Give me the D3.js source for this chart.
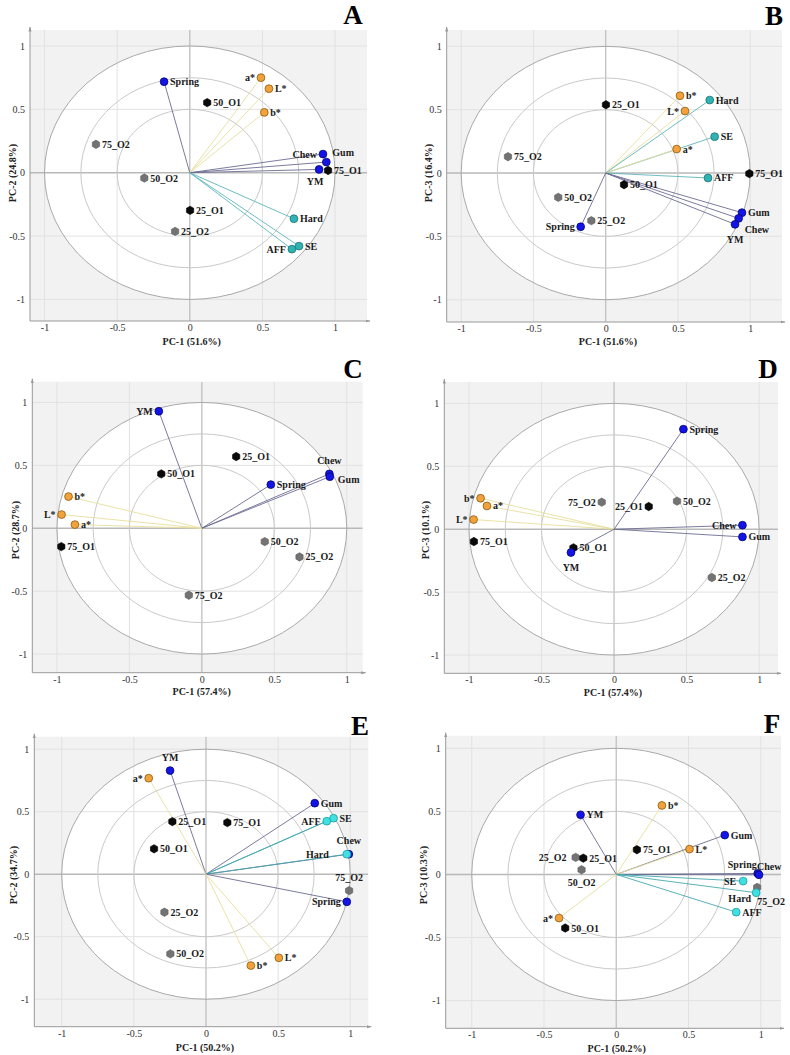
<!DOCTYPE html>
<html><head><meta charset="utf-8">
<script src="https://cdn.jsdelivr.net/npm/d3@7"></script>
<style>body{margin:0;background:#fff}svg{display:block}</style>
</head><body>
<svg id="chart" width="790" height="1055"></svg>
<script>
// ---------- data ----------
const tickValues = [-1, -0.5, 0, 0.5, 1];
const tickLabels = ["-1", "-0.5", "0", "0.5", "1"];
const circleRadii = [0.5, 0.75, 1];
const panelLetters = ["A", "B", "C", "D", "E", "F"];
const xTitles = ["PC-1 (51.6%)", "PC-1 (51.6%)", "PC-1 (57.4%)", "PC-1 (57.4%)", "PC-1 (50.2%)", "PC-1 (50.2%)"];
const yTitles = ["PC-2 (24.8%)", "PC-3 (16.4%)", "PC-2 (28.7%)", "PC-3 (10.1%)", "PC-2 (34.7%)", "PC-3 (10.3%)"];
const textureVars = ["Hard", "SE", "AFF"];
const mechVars = ["Chew", "Gum", "YM", "Spring"];
const colourVars = ["L*", "a*", "b*"];
const samplesO1 = ["25_O1", "50_O1", "75_O1"];
const samplesO2 = ["25_O2", "50_O2", "75_O2"];

const loadingsA = [
  ["Spring", -0.177, 0.718], ["a*", 0.49, 0.75], ["L*", 0.545, 0.663], ["b*", 0.513, 0.476],
  ["50_O1", 0.12, 0.553], ["75_O2", -0.646, 0.224], ["Chew", 0.917, 0.147], ["Gum", 0.94, 0.084],
  ["YM", 0.89, 0.026], ["75_O1", 0.952, 0.018], ["50_O2", -0.313, -0.042], ["25_O1", 0.002, -0.297],
  ["25_O2", -0.101, -0.463], ["Hard", 0.717, -0.363], ["SE", 0.752, -0.579], ["AFF", 0.703, -0.603]
];
const loadingsB = [
  ["b*", 0.514, 0.61], ["L*", 0.549, 0.489], ["Hard", 0.72, 0.576], ["25_O1", 0.002, 0.539],
  ["SE", 0.754, 0.287], ["a*", 0.491, 0.189], ["75_O2", -0.676, 0.129], ["75_O1", 0.994, -0.005],
  ["AFF", 0.708, -0.039], ["50_O1", 0.127, -0.092], ["50_O2", -0.328, -0.192], ["25_O2", -0.099, -0.376],
  ["Spring", -0.173, -0.424], ["Gum", 0.943, -0.313], ["Chew", 0.92, -0.358], ["YM", 0.895, -0.405]
];
const loadingsC = [
  ["YM", -0.297, 0.93], ["25_O1", 0.237, 0.57], ["50_O1", -0.28, 0.432], ["Chew", 0.88, 0.432],
  ["Gum", 0.883, 0.41], ["Spring", 0.476, 0.347], ["b*", -0.92, 0.252], ["L*", -0.968, 0.109],
  ["a*", -0.876, 0.029], ["75_O1", -0.97, -0.146], ["50_O2", 0.434, -0.106], ["25_O2", 0.674, -0.228],
  ["75_O2", -0.09, -0.532]
];
const loadingsD = [
  ["Spring", 0.478, 0.795], ["b*", -0.92, 0.246], ["a*", -0.876, 0.185], ["L*", -0.968, 0.077],
  ["75_O2", -0.085, 0.215], ["25_O1", 0.239, 0.18], ["50_O2", 0.434, 0.223], ["Chew", 0.885, 0.032],
  ["Gum", 0.885, -0.061], ["75_O1", -0.966, -0.098], ["50_O1", -0.28, -0.148], ["YM", -0.297, -0.185],
  ["25_O2", 0.674, -0.384]
];
const loadingsE = [
  ["YM", -0.249, 0.829], ["a*", -0.397, 0.768], ["Gum", 0.754, 0.568], ["SE", 0.884, 0.448],
  ["AFF", 0.837, 0.424], ["25_O1", -0.233, 0.421], ["75_O1", 0.148, 0.413], ["50_O1", -0.36, 0.203],
  ["Chew", 0.99, 0.16], ["Hard", 0.976, 0.16], ["75_O2", 0.992, -0.131], ["Spring", 0.976, -0.221],
  ["25_O2", -0.288, -0.304], ["50_O2", -0.247, -0.637], ["L*", 0.505, -0.669], ["b*", 0.311, -0.731]
];
const loadingsF = [
  ["b*", 0.316, 0.547], ["YM", -0.247, 0.473], ["Gum", 0.751, 0.312], ["L*", 0.507, 0.201],
  ["75_O1", 0.143, 0.196], ["25_O2", -0.281, 0.135], ["25_O1", -0.228, 0.129], ["50_O2", -0.24, 0.037],
  ["Spring", 0.979, 0.008], ["Chew", 0.988, -0.003], ["SE", 0.878, -0.053], ["75_O2", 0.975, -0.103],
  ["Hard", 0.968, -0.145], ["AFF", 0.83, -0.299], ["a*", -0.396, -0.346], ["50_O1", -0.353, -0.425]
];
const allLoadings = [loadingsA, loadingsB, loadingsC, loadingsD, loadingsE, loadingsF];

// ---------- layout (positions / styles) ----------
const panelBoxes = [
  {left: 30, right: 367, top: 30, bottom: 321, xd: [-1.10, 1.22], yd: [-1.17, 1.126]},
  {left: 446.7, right: 782, top: 30, bottom: 322, xd: [-1.10, 1.22], yd: [-1.176, 1.129]},
  {left: 32.3, right: 362.7, top: 381.7, bottom: 672.7, xd: [-1.17, 1.11], yd: [-1.148, 1.165]},
  {left: 444.3, right: 778, top: 382, bottom: 673.3, xd: [-1.17, 1.13], yd: [-1.145, 1.17]},
  {left: 34.3, right: 368.3, top: 736.7, bottom: 1026.7, xd: [-1.19, 1.125], yd: [-1.22, 1.10]},
  {left: 445.7, right: 781, top: 735.7, bottom: 1028.3, xd: [-1.18, 1.14], yd: [-1.22, 1.10]}
];
const letterPos = [[353, 24], [774, 25], [353, 378], [768, 378], [360, 735], [772, 733]];
const xTitlePos = [[191.7, 344.5], [608, 344.5], [201.7, 695], [613, 696], [205, 1050.5], [616.7, 1052]];
const yTitlePos = [[12, 173], [428, 173], [15, 530], [425, 530], [13, 875], [423, 875]];

const placeCodes = {
  r: [6, 3.5, "start"], l: [-6, 3.5, "end"], t: [0, -8, "middle"], b: [0, 16, "middle"],
  tr: [6, -6, "start"], br: [6, 15, "start"], bl: [-4, 16, "middle"]
};
const placements = [
  {"Spring": "r", "a*": "l", "L*": "r", "b*": "r", "50_O1": "r", "75_O2": "r", "Chew": "l", "Gum": "tr",
   "YM": "bl", "75_O1": "r", "50_O2": "r", "25_O1": "r", "25_O2": "r", "Hard": "r", "SE": "r", "AFF": "l"},
  {"b*": "r", "L*": "l", "Hard": "r", "25_O1": "r", "SE": "r", "a*": "r", "75_O2": "r", "75_O1": "r",
   "AFF": "r", "50_O1": "r", "50_O2": "r", "25_O2": "r", "Spring": "l", "Gum": "r", "Chew": "br", "YM": [0, 19, "middle"]},
  {"YM": "l", "25_O1": "r", "50_O1": "r", "Chew": [0, -10, "middle"], "Gum": [8, 6, "start"], "Spring": "r",
   "b*": "r", "L*": "l", "a*": "r", "75_O1": "r", "50_O2": "r", "25_O2": "r", "75_O2": "r"},
  {"Spring": "r", "b*": "l", "a*": "r", "L*": "l", "75_O2": "l", "25_O1": "l", "50_O2": "r", "Chew": "l",
   "Gum": "r", "75_O1": "r", "50_O1": "r", "YM": [0, 18, "middle"], "25_O2": "r"},
  {"YM": [0, -10, "middle"], "a*": "l", "Gum": "r", "SE": "r", "AFF": "l", "25_O1": "r", "75_O1": "r",
   "50_O1": "r", "Chew": [0, -10, "middle"], "Hard": [-18, 3.5, "end"], "75_O2": [0, -10, "middle"],
   "Spring": "l", "25_O2": "r", "50_O2": "r", "L*": "r", "b*": "r"},
  {"b*": "r", "YM": "r", "Gum": "r", "L*": "r", "75_O1": "r", "25_O2": [-9, 3.5, "end"], "25_O1": "r",
   "50_O2": [0, 16, "middle"], "Spring": [-1, -5, "end"], "Chew": [-2, -5, "start"], "SE": [-7, 3.5, "end"],
   "75_O2": [0, 18, "start"], "Hard": [-5, 9, "end"], "AFF": "r", "a*": "l", "50_O1": "r"}
];

const styleFor = (name, panelIdx) => {
  if (textureVars.includes(name)) {
    return panelIdx >= 4
      ? {shape: "circle", fill: "#3fe0e2", stroke: "#1f9aa0", line: "#45a9b0"}
      : {shape: "circle", fill: "#2fb3b3", stroke: "#1a7474", line: "#5cb6bc"};
  }
  if (mechVars.includes(name)) return {shape: "circle", fill: "#1414e6", stroke: "#06066e", line: "#6c6c92"};
  if (colourVars.includes(name)) return {shape: "circle", fill: "#f2a23a", stroke: "#8c5a10", line: "#e8df9c"};
  if (samplesO1.includes(name)) return {shape: "hex", fill: "#0a0a0a", stroke: "#000"};
  return {shape: "hex", fill: "#737373", stroke: "#5a5a5a"};
};

const serif = "Liberation Serif, Times New Roman, DejaVu Serif, serif";
const svg = d3.select("#chart");

function hexPath(r) {
  const pts = d3.range(6).map(i => {
    const a = Math.PI / 6 + i * Math.PI / 3;
    return [r * Math.cos(a), r * Math.sin(a)];
  });
  return "M" + pts.map(p => p.join(",")).join("L") + "Z";
}

const defs = svg.append("defs");
defs.append("marker").attr("id", "arr").attr("viewBox", "0 0 10 10").attr("refX", 9).attr("refY", 5)
  .attr("markerWidth", 5).attr("markerHeight", 5).attr("orient", "auto")
  .append("path").attr("d", "M0,2 L10,5 L0,8 Z").attr("fill", "#999");

panelBoxes.forEach((box, pi) => {
  const x = d3.scaleLinear().domain(box.xd).range([box.left, box.right]);
  const y = d3.scaleLinear().domain(box.yd).range([box.bottom, box.top]);
  const g = svg.append("g");
  const clipId = "clip" + pi;
  defs.append("clipPath").attr("id", clipId).append("rect")
    .attr("x", box.left).attr("y", box.top).attr("width", box.right - box.left).attr("height", box.bottom - box.top);

  g.append("rect").attr("x", box.left).attr("y", box.top)
    .attr("width", box.right - box.left).attr("height", box.bottom - box.top).attr("fill", "#f2f2f2");

  const inner = g.append("g").attr("clip-path", `url(#${clipId})`);
  const rx = x(1) - x(0), ry = y(0) - y(1);
  inner.append("ellipse").attr("cx", x(0)).attr("cy", y(0)).attr("rx", rx).attr("ry", ry).attr("fill", "#fff");

  // grid
  tickValues.filter(v => v !== 0).forEach(v => {
    inner.append("line").attr("x1", box.left).attr("x2", box.right).attr("y1", y(v)).attr("y2", y(v))
      .attr("stroke", "#e2e2e2").attr("stroke-width", 1);
    inner.append("line").attr("y1", box.top).attr("y2", box.bottom).attr("x1", x(v)).attr("x2", x(v))
      .attr("stroke", "#e2e2e2").attr("stroke-width", 1);
  });
  inner.append("line").attr("x1", box.left).attr("x2", box.right).attr("y1", y(0)).attr("y2", y(0))
    .attr("stroke", "#b9b9b9").attr("stroke-width", 1.6);
  inner.append("line").attr("y1", box.top).attr("y2", box.bottom).attr("x1", x(0)).attr("x2", x(0))
    .attr("stroke", "#c4c4c4").attr("stroke-width", 1.4);

  circleRadii.forEach(r => {
    inner.append("ellipse").attr("cx", x(0)).attr("cy", y(0)).attr("rx", rx * r).attr("ry", ry * r)
      .attr("fill", "none").attr("stroke", r === 1 ? "#a9a9a9" : "#c9c9c9").attr("stroke-width", 1);
  });

  // axes
  const xAxis = d3.axisBottom(x).tickValues(tickValues).tickFormat((d, i) => tickLabels[i]).tickSize(0).tickPadding(3);
  const yAxis = d3.axisLeft(y).tickValues(tickValues).tickFormat((d, i) => tickLabels[i]).tickSize(0).tickPadding(5);
  const gx = g.append("g").attr("transform", `translate(0,${box.bottom})`).call(xAxis);
  const gy = g.append("g").attr("transform", `translate(${box.left},0)`).call(yAxis);
  [gx, gy].forEach(ax => {
    ax.attr("font-family", null).attr("font-size", null);
    ax.select(".domain").remove();
    ax.selectAll("text").style("font-family", serif).style("font-size", "10px").attr("fill", "#333");
  });
  g.append("line").attr("x1", box.left).attr("x2", box.right + 3).attr("y1", box.bottom).attr("y2", box.bottom)
    .attr("stroke", "#999").attr("stroke-width", 1).attr("marker-end", "url(#arr)");
  g.append("line").attr("x1", box.left).attr("x2", box.left).attr("y1", box.bottom).attr("y2", box.top - 3)
    .attr("stroke", "#999").attr("stroke-width", 1).attr("marker-end", "url(#arr)");

  // loading lines
  const rows = allLoadings[pi];
  const vars = rows.filter(d => !samplesO1.includes(d[0]) && !samplesO2.includes(d[0]));
  inner.selectAll("line.ld").data(vars).join("line").attr("class", "ld")
    .attr("x1", x(0)).attr("y1", y(0)).attr("x2", d => x(d[1])).attr("y2", d => y(d[2]))
    .attr("stroke", d => styleFor(d[0], pi).line).attr("stroke-width", 0.9);

  // markers
  rows.forEach(d => {
    const st = styleFor(d[0], pi);
    if (st.shape === "circle") {
      g.append("circle").attr("cx", x(d[1])).attr("cy", y(d[2])).attr("r", 3.9)
        .attr("fill", st.fill).attr("stroke", st.stroke).attr("stroke-width", 0.8);
    } else {
      g.append("path").attr("d", hexPath(4.2)).attr("transform", `translate(${x(d[1])},${y(d[2])})`)
        .attr("fill", st.fill).attr("stroke", st.stroke).attr("stroke-width", 0.6);
    }
  });

  // labels
  rows.forEach(d => {
    let p = placements[pi][d[0]] || "r";
    if (typeof p === "string") p = placeCodes[p];
    g.append("text").attr("x", x(d[1]) + p[0]).attr("y", y(d[2]) + p[1]).attr("text-anchor", p[2])
      .style("font-family", serif).style("font-weight", "bold").style("font-size", "10px").attr("fill", "#1a1a1a")
      .text(d[0]);
  });

  // titles
  svg.append("text").attr("x", xTitlePos[pi][0]).attr("y", xTitlePos[pi][1]).attr("text-anchor", "middle")
    .style("font-family", serif).style("font-weight", "bold").style("font-size", "10px").attr("fill", "#222")
    .text(xTitles[pi]);
  svg.append("text").attr("transform", `translate(${yTitlePos[pi][0]},${yTitlePos[pi][1]}) rotate(-90)`)
    .attr("text-anchor", "middle").attr("dy", "0.35em")
    .style("font-family", serif).style("font-weight", "bold").style("font-size", "10px").attr("fill", "#222")
    .text(yTitles[pi]);
  svg.append("text").attr("x", letterPos[pi][0]).attr("y", letterPos[pi][1]).attr("text-anchor", "middle")
    .style("font-family", serif).style("font-weight", "bold").style("font-size", "27px").attr("fill", "#000")
    .text(panelLetters[pi]);
});
</script>
</body></html>
